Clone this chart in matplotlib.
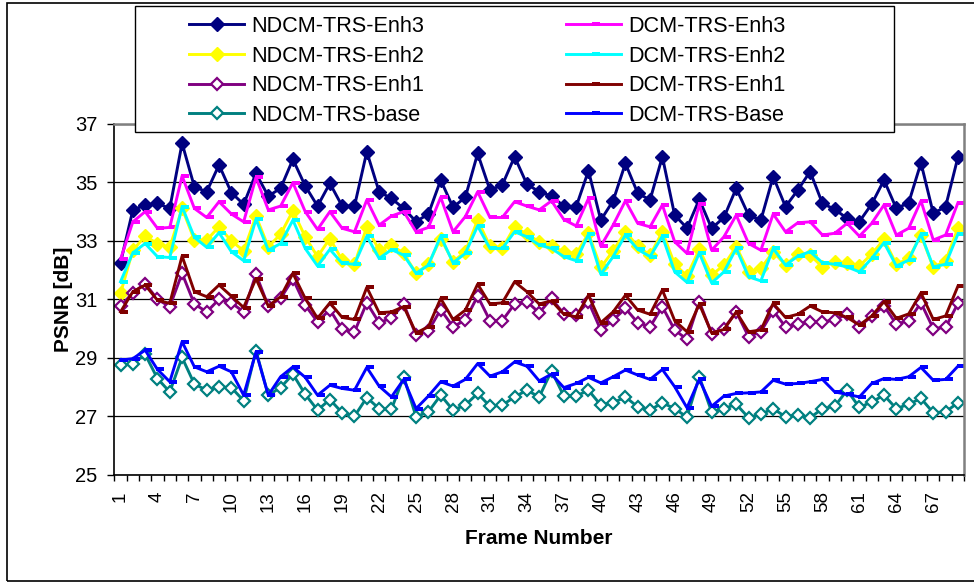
import matplotlib.pyplot as plt
import numpy as np
from matplotlib.patches import Rectangle

plt.rcParams['font.family'] = ['Liberation Sans', 'DejaVu Sans']

# PSNR per frame
frames = np.arange(1, 70)

ndcm_enh3 = [32.25, 34.05, 34.23, 34.28, 34.11, 36.34, 34.85, 34.68, 35.60, 34.65,
             34.25, 35.31, 34.53, 34.80, 35.79, 34.88, 34.19, 34.97, 34.19, 34.19,
             36.05, 34.68, 34.45, 34.11, 33.66, 33.92, 35.08, 34.15, 34.49, 35.99,
             34.74, 34.91, 35.88, 34.94, 34.68, 34.53, 34.19, 34.17, 35.40, 33.71,
             34.37, 35.65, 34.63, 34.40, 35.88, 33.88, 33.44, 34.42, 33.43, 33.80,
             34.80, 33.88, 33.71, 35.20, 34.17, 34.74, 35.37, 34.28, 34.08, 33.77,
             33.66, 34.26, 35.08, 34.11, 34.30, 35.67, 33.94, 34.17, 35.86]
dcm_enh3 = [32.37, 33.65, 34.00, 33.43, 33.46, 35.22, 34.11, 33.80, 34.34, 33.92,
            33.65, 35.17, 34.06, 34.19, 34.99, 34.00, 33.39, 34.00, 33.43, 33.31,
            34.40, 33.54, 33.85, 34.00, 33.31, 33.46, 34.49, 33.31, 33.83, 34.68,
            33.80, 33.80, 34.34, 34.19, 34.06, 34.37, 33.73, 33.51, 34.45, 32.82,
            33.54, 34.37, 33.60, 33.48, 34.23, 32.97, 32.57, 34.26, 32.68, 33.14,
            33.88, 32.91, 32.68, 33.92, 33.31, 33.62, 33.65, 33.20, 33.26, 33.60,
            33.16, 33.60, 34.23, 33.20, 33.43, 34.37, 33.03, 33.20, 34.30]
ndcm_enh2 = [31.20, 32.68, 33.16, 32.91, 32.78, 34.11, 33.03, 33.03, 33.48, 33.00,
             32.66, 33.85, 32.80, 33.23, 34.03, 33.14, 32.46, 33.08, 32.34, 32.20,
             33.48, 32.68, 32.86, 32.57, 31.89, 32.20, 33.08, 32.29, 32.63, 33.71,
             32.82, 32.74, 33.48, 33.23, 32.97, 32.82, 32.63, 32.55, 33.26, 32.09,
             32.66, 33.31, 32.82, 32.51, 33.31, 32.20, 31.80, 32.71, 31.83, 32.17,
             32.80, 31.94, 32.06, 32.63, 32.17, 32.55, 32.51, 32.11, 32.29, 32.23,
             32.14, 32.55, 33.05, 32.20, 32.40, 33.20, 32.09, 32.32, 33.43]
dcm_enh2 = [31.60, 32.59, 32.91, 32.46, 32.43, 34.17, 33.12, 32.78, 33.28, 32.63,
            32.32, 33.74, 32.68, 32.91, 33.71, 32.74, 32.14, 32.71, 32.23, 32.20,
            33.16, 32.40, 32.70, 32.51, 31.89, 32.17, 33.16, 32.25, 32.57, 33.51,
            32.74, 32.74, 33.31, 33.14, 32.86, 32.74, 32.46, 32.32, 33.23, 31.86,
            32.46, 33.20, 32.71, 32.46, 33.16, 31.94, 31.58, 32.59, 31.56, 31.94,
            32.74, 31.77, 31.63, 32.74, 32.17, 32.48, 32.63, 32.25, 32.20, 32.11,
            31.94, 32.40, 32.94, 32.14, 32.34, 33.23, 32.11, 32.20, 33.23]
ndcm_enh1 = [30.77, 31.22, 31.54, 31.00, 30.75, 31.89, 30.84, 30.57, 31.00, 30.88,
             30.57, 31.86, 30.77, 31.03, 31.70, 30.80, 30.23, 30.65, 29.97, 29.89,
             30.88, 30.20, 30.36, 30.84, 29.77, 29.92, 30.65, 30.06, 30.29, 31.11,
             30.27, 30.27, 30.84, 30.92, 30.54, 31.03, 30.50, 30.46, 30.92, 29.95,
             30.29, 30.69, 30.20, 30.06, 30.75, 29.95, 29.63, 30.92, 29.83, 30.00,
             30.57, 29.72, 29.89, 30.61, 30.06, 30.15, 30.23, 30.23, 30.29, 30.50,
             30.06, 30.43, 30.77, 30.15, 30.27, 30.88, 30.00, 30.04, 30.86]
dcm_enh1 = [30.57, 31.26, 31.49, 30.97, 30.86, 32.48, 31.26, 31.09, 31.49, 31.11,
            30.72, 31.71, 30.77, 31.09, 31.89, 31.03, 30.35, 30.88, 30.38, 30.31,
            31.41, 30.54, 30.57, 30.75, 29.85, 30.06, 31.03, 30.31, 30.63, 31.52,
            30.84, 30.88, 31.60, 31.26, 30.84, 30.95, 30.49, 30.40, 31.14, 30.20,
            30.57, 31.14, 30.63, 30.49, 31.32, 30.27, 29.89, 30.84, 29.85, 29.97,
            30.57, 29.89, 29.95, 30.86, 30.38, 30.49, 30.77, 30.57, 30.54, 30.38,
            30.12, 30.43, 30.92, 30.35, 30.50, 31.22, 30.31, 30.43, 31.45]
ndcm_base = [28.75, 28.78, 29.12, 28.29, 27.83, 29.01, 28.10, 27.89, 28.00, 27.98,
             27.53, 29.24, 27.72, 27.98, 28.44, 27.75, 27.21, 27.57, 27.12, 27.00,
             27.64, 27.26, 27.24, 28.35, 26.98, 27.15, 27.72, 27.21, 27.38, 27.78,
             27.34, 27.38, 27.66, 27.89, 27.66, 28.55, 27.69, 27.69, 27.89, 27.38,
             27.46, 27.66, 27.32, 27.21, 27.46, 27.26, 26.97, 28.35, 27.15, 27.26,
             27.41, 26.95, 27.07, 27.26, 26.98, 27.04, 26.95, 27.26, 27.34, 27.89,
             27.30, 27.49, 27.72, 27.26, 27.41, 27.61, 27.12, 27.15, 27.46]
dcm_base = [28.92, 28.97, 29.26, 28.60, 28.18, 29.55, 28.69, 28.52, 28.71, 28.52,
            27.72, 29.20, 27.72, 28.35, 28.69, 28.33, 27.72, 28.06, 27.95, 27.89,
            28.67, 28.03, 27.66, 28.26, 27.26, 27.69, 28.18, 28.03, 28.26, 28.80,
            28.37, 28.52, 28.86, 28.71, 28.21, 28.44, 27.98, 28.12, 28.33, 28.14,
            28.35, 28.58, 28.41, 28.26, 28.60, 28.01, 27.29, 28.26, 27.34, 27.69,
            27.78, 27.80, 27.83, 28.23, 28.10, 28.12, 28.18, 28.26, 27.83, 27.75,
            27.66, 28.12, 28.29, 28.26, 28.35, 28.67, 28.23, 28.26, 28.71]

# small bar-like square marker, drawn a bit to the right like Excel does
sq = [(-0.1, -0.35), (1, -0.35), (1, 0.35), (-0.1, 0.35), (-0.1, -0.35)]

# (label, data, colour, kind) in drawing order
series = [
    ('NDCM-TRS-Enh3', ndcm_enh3, '#000080', 'filled'),
    ('DCM-TRS-Enh3', dcm_enh3, '#FF00FF', 'square'),
    ('NDCM-TRS-Enh2', ndcm_enh2, '#FFFF00', 'filled'),
    ('DCM-TRS-Enh2', dcm_enh2, '#00FFFF', 'square'),
    ('NDCM-TRS-Enh1', ndcm_enh1, '#800080', 'open'),
    ('DCM-TRS-Enh1', dcm_enh1, '#800000', 'square'),
    ('NDCM-TRS-base', ndcm_base, '#008080', 'open'),
    ('DCM-TRS-Base', dcm_base, '#0000FF', 'square'),
]

fig = plt.figure(figsize=(9.74, 5.82), dpi=100)
ax = fig.add_axes([0.1174, 0.1844, 0.8724, 0.6026])

handles = {}
for label, vals, c, kind in series:
    if kind == 'filled':
        ln, = ax.plot(frames, vals, color=c, lw=2.1, marker='D', ms=7,
                      mfc=c, mec=c, mew=1)
    elif kind == 'open':
        ln, = ax.plot(frames, vals, color=c, lw=2.1, marker='D', ms=6.2,
                      mfc='white', mec=c, mew=1.6)
    else:
        ln, = ax.plot(frames, vals, color=c, lw=2.1, marker=sq, ms=9.8,
                      mfc=c, mec=c, mew=0)
    handles[label] = ln

ax.set_xlim(0.5, 69.5)
ax.set_ylim(25, 37)
ax.set_yticks(range(25, 38, 2))
ax.yaxis.grid(True, color='black', lw=0.9)
ax.set_axisbelow(True)

ax.set_xticks(frames[::3])
ax.set_xticklabels([str(f) for f in frames[::3]], rotation=90)
ax.set_xticks(np.arange(0.5, 70, 1), minor=True)
ax.tick_params(axis='x', which='major', length=0, pad=12, labelsize=13.5)
ax.tick_params(axis='x', which='minor', length=4.3, width=1, direction='out')
ax.tick_params(axis='y', length=5, width=1, direction='out', pad=7, labelsize=14.5)

for s in ['top', 'right']:
    ax.spines[s].set_color('#808080')
    ax.spines[s].set_linewidth(1.8)
for s in ['left', 'bottom']:
    ax.spines[s].set_color('black')
    ax.spines[s].set_linewidth(1.2)

ax.set_xlabel('Frame Number', fontsize=15, fontweight='bold')
ax.xaxis.set_label_coords(0.5, -0.155)
ax.set_ylabel('PSNR [dB]', fontsize=15, fontweight='bold')
ax.yaxis.set_label_coords(-0.049, 0.5)

# legend: box drawn separately so padding can match the original
fig.add_artist(Rectangle((135 / 974, 1 - 131.7 / 582), (894 - 135) / 974, (131.7 - 6) / 582,
                         transform=fig.transFigure, fc='white', ec='black', lw=1, zorder=2))
order = ['NDCM-TRS-Enh3', 'NDCM-TRS-Enh2', 'NDCM-TRS-Enh1', 'NDCM-TRS-base',
         'DCM-TRS-Enh3', 'DCM-TRS-Enh2', 'DCM-TRS-Enh1', 'DCM-TRS-Base']
fig.legend([handles[k] for k in order], order, ncol=2, loc='upper left',
           bbox_to_anchor=(189 / 974, 1 - 16 / 582), frameon=False, fontsize=15.6,
           handlelength=2.55, handletextpad=0.33, columnspacing=6.52,
           labelspacing=0.40, borderpad=0, borderaxespad=0)

# outer chart border (right edge falls just outside the image)
fig.add_artist(Rectangle((7 / 974, 1 / 582), 975 / 974, 578 / 582,
                         transform=fig.transFigure, fill=False, ec='black', lw=1.2))

fig.savefig('out.png', dpi=100)
